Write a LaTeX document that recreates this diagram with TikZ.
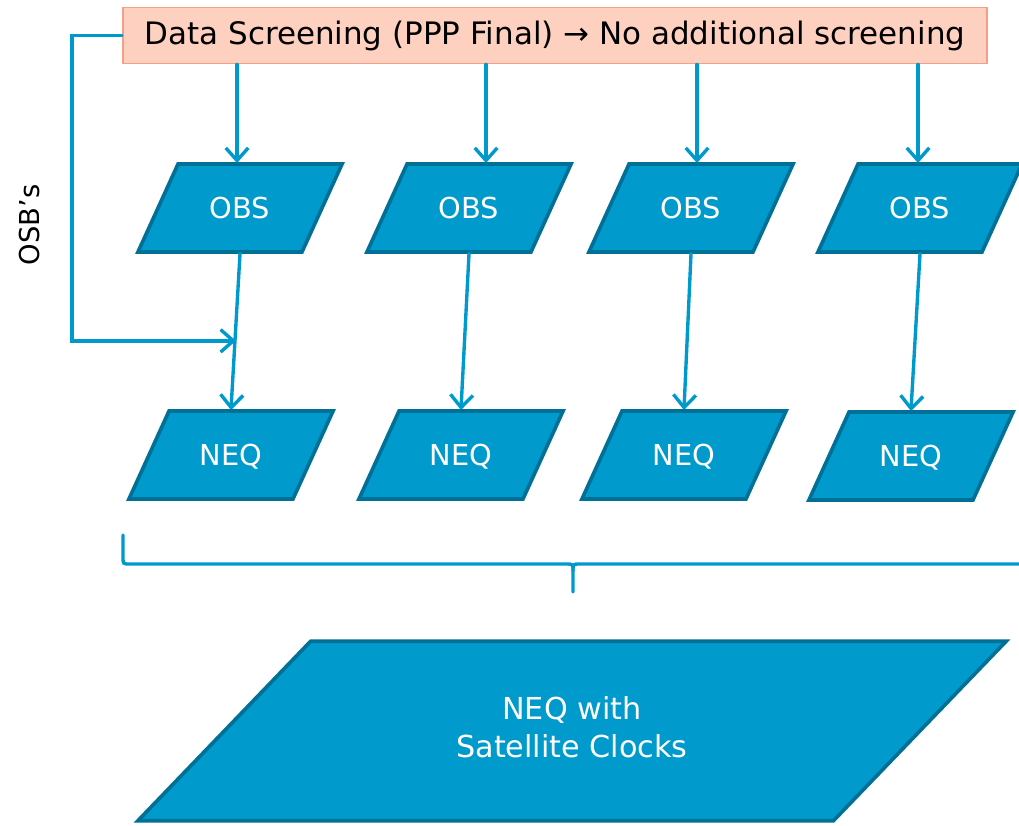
\documentclass[tikz,border=0pt]{standalone}
\usepackage{fontspec}
\setmainfont{DejaVu Sans}
\usetikzlibrary{shapes.geometric,arrows.meta,calc}

\definecolor{boxblue}{RGB}{0,154,204}
\definecolor{boxedge}{RGB}{0,112,150}
\definecolor{linkblue}{RGB}{0,153,206}
\definecolor{screenfill}{RGB}{253,208,192}
\definecolor{screenedge}{RGB}{244,160,136}

\begin{document}
\begin{tikzpicture}[x=0.025cm,y=-0.025cm,
    data/.style={trapezium,trapezium left angle=65.5,trapezium right angle=114.5,
        trapezium stretches body,draw=boxedge,line width=2.6pt,fill=boxblue,
        text=white,inner xsep=0pt,inner ysep=23.8pt,text height=14.9pt,text depth=0pt,
        minimum width=5.1cm,font=\fontsize{20.5}{27}\selectfont},
    arr/.style={draw=linkblue,line width=2.4pt,line cap=round,
        -{Straight Barb[length=9pt,width=16pt,line join=round]}},
    brace/.style={draw=linkblue,line width=2.4pt,line cap=round}
]
    \clip (0,0) rectangle (1019,825);

    \node [rectangle,draw=screenedge,fill=screenfill,line width=1.3pt,
        minimum width=21.6cm,minimum height=1.4cm,
        font=\fontsize{22}{26}\selectfont] (screen) at (555,35.5)
        {Data Screening (PPP Final) → No additional screening};

    \node [rotate=90,font=\fontsize{19.5}{24}\selectfont] (osb) at (30,225) {OSB’s};

    % observation files
    \node [data] (obs1) at (240,208) {OBS};
    \node [data] (obs2) at (469,208) {OBS};
    \node [data] (obs3) at (691,208) {OBS};
    \node [data] (obs4) at (920,208) {OBS};

    % normal equations
    \node [data] (neq1) at (231,455) {NEQ};
    \node [data] (neq2) at (461,455) {NEQ};
    \node [data] (neq3) at (684,455) {NEQ};
    \node [data] (neq4) at (911,456) {NEQ};

    \node [data,trapezium left angle=46.1,trapezium right angle=133.9,
        text height=32.4pt,text depth=21.6pt,inner ysep=36.8pt,
        minimum width=21.7cm,font=\fontsize{21.5}{27}\selectfont]
        (all) at (572,731) {\begin{tabular}{c}NEQ with\\Satellite Clocks\end{tabular}};

    \draw [arr] ($(obs1.north |- screen.south)+(-3,0)$) -- ($(obs1.north)+(-3,0)$);
    \draw [arr] ($(obs2.north |- screen.south)+(17,0)$) -- ($(obs2.north)+(17,0)$);
    \draw [arr] ($(obs3.north |- screen.south)+(6,0)$) -- ($(obs3.north)+(6,0)$);
    \draw [arr] ($(obs4.north |- screen.south)+(-2,0)$) -- ($(obs4.north)+(-2,0)$);

    \foreach \i in {1,...,4}
        \draw [arr] (obs\i.south) -- (neq\i.north);

    \coordinate (osbin) at ($(obs1.south)!0.56!(neq1.north)$);
    \draw [arr] (screen.west) -- ++(-50,0) |- (osbin);

    % brace over all NEQs
    \coordinate (bl) at (123,535);
    \coordinate (bt) at (573,592);
    \draw [brace] (bl) -- (123,557) .. controls (123,564) .. (130,564) -- (566,564)
        .. controls (573,564) .. (573,571) -- (bt);
    \draw [brace] (573,571) .. controls (573,564) .. (580,564) -- (1030,564) -- (1030,535);
\end{tikzpicture}
\end{document}
